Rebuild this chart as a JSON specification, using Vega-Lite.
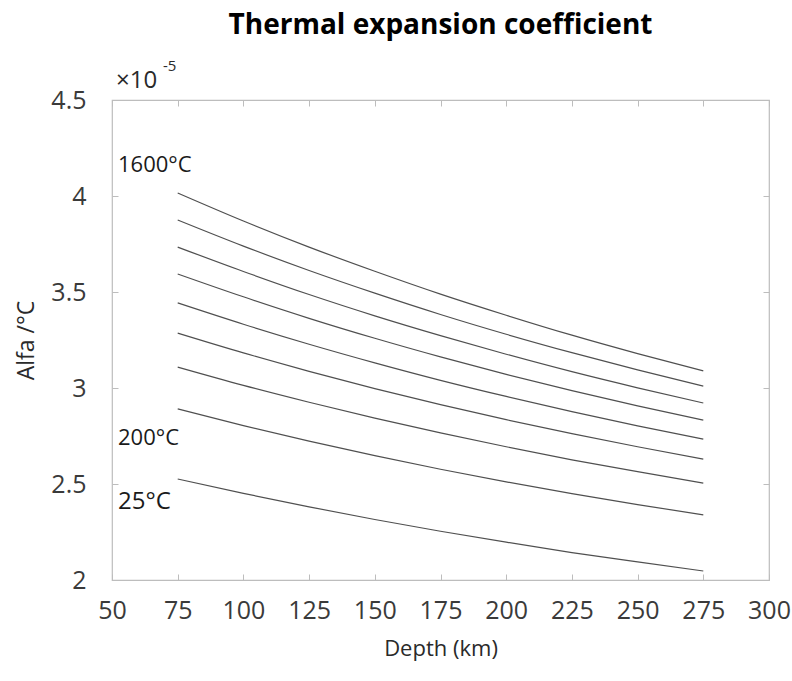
{
  "$schema": "https://vega.github.io/schema/vega-lite/v6.json",
  "width": 657,
  "height": 480,
  "autosize": "none",
  "padding": {"left": 112, "top": 100, "right": 23, "bottom": 101},
  "background": "white",
  "config": {"view": {"stroke": "#bdbdbd", "strokeWidth": 1.2}},
  "title": {
    "text": "Thermal expansion coefficient",
    "font": "Open Sans",
    "fontSize": 28,
    "fontWeight": "bold",
    "color": "#000000",
    "anchor": "middle",
    "offset": 19
  },
  "datasets": {
    "curves": [
      {"depth": 75, "alpha": 4.016, "T": 1600}, {"depth": 100, "alpha": 3.870, "T": 1600}, {"depth": 125, "alpha": 3.734, "T": 1600}, {"depth": 150, "alpha": 3.608, "T": 1600}, {"depth": 175, "alpha": 3.489, "T": 1600}, {"depth": 200, "alpha": 3.379, "T": 1600}, {"depth": 225, "alpha": 3.275, "T": 1600}, {"depth": 250, "alpha": 3.179, "T": 1600}, {"depth": 275, "alpha": 3.089, "T": 1600},
      {"depth": 75, "alpha": 3.875, "T": 1400}, {"depth": 100, "alpha": 3.739, "T": 1400}, {"depth": 125, "alpha": 3.612, "T": 1400}, {"depth": 150, "alpha": 3.494, "T": 1400}, {"depth": 175, "alpha": 3.383, "T": 1400}, {"depth": 200, "alpha": 3.280, "T": 1400}, {"depth": 225, "alpha": 3.184, "T": 1400}, {"depth": 250, "alpha": 3.094, "T": 1400}, {"depth": 275, "alpha": 3.010, "T": 1400},
      {"depth": 75, "alpha": 3.734, "T": 1200}, {"depth": 100, "alpha": 3.607, "T": 1200}, {"depth": 125, "alpha": 3.487, "T": 1200}, {"depth": 150, "alpha": 3.376, "T": 1200}, {"depth": 175, "alpha": 3.273, "T": 1200}, {"depth": 200, "alpha": 3.176, "T": 1200}, {"depth": 225, "alpha": 3.085, "T": 1200}, {"depth": 250, "alpha": 3.001, "T": 1200}, {"depth": 275, "alpha": 2.922, "T": 1200},
      {"depth": 75, "alpha": 3.594, "T": 1000}, {"depth": 100, "alpha": 3.475, "T": 1000}, {"depth": 125, "alpha": 3.363, "T": 1000}, {"depth": 150, "alpha": 3.259, "T": 1000}, {"depth": 175, "alpha": 3.162, "T": 1000}, {"depth": 200, "alpha": 3.071, "T": 1000}, {"depth": 225, "alpha": 2.986, "T": 1000}, {"depth": 250, "alpha": 2.907, "T": 1000}, {"depth": 275, "alpha": 2.833, "T": 1000},
      {"depth": 75, "alpha": 3.443, "T": 800}, {"depth": 100, "alpha": 3.332, "T": 800}, {"depth": 125, "alpha": 3.228, "T": 800}, {"depth": 150, "alpha": 3.131, "T": 800}, {"depth": 175, "alpha": 3.040, "T": 800}, {"depth": 200, "alpha": 2.956, "T": 800}, {"depth": 225, "alpha": 2.877, "T": 800}, {"depth": 250, "alpha": 2.803, "T": 800}, {"depth": 275, "alpha": 2.734, "T": 800},
      {"depth": 75, "alpha": 3.286, "T": 600}, {"depth": 100, "alpha": 3.183, "T": 600}, {"depth": 125, "alpha": 3.087, "T": 600}, {"depth": 150, "alpha": 2.997, "T": 600}, {"depth": 175, "alpha": 2.913, "T": 600}, {"depth": 200, "alpha": 2.835, "T": 600}, {"depth": 225, "alpha": 2.762, "T": 600}, {"depth": 250, "alpha": 2.694, "T": 600}, {"depth": 275, "alpha": 2.630, "T": 600},
      {"depth": 75, "alpha": 3.109, "T": 400}, {"depth": 100, "alpha": 3.014, "T": 400}, {"depth": 125, "alpha": 2.926, "T": 400}, {"depth": 150, "alpha": 2.843, "T": 400}, {"depth": 175, "alpha": 2.766, "T": 400}, {"depth": 200, "alpha": 2.694, "T": 400}, {"depth": 225, "alpha": 2.626, "T": 400}, {"depth": 250, "alpha": 2.564, "T": 400}, {"depth": 275, "alpha": 2.505, "T": 400},
      {"depth": 75, "alpha": 2.891, "T": 200}, {"depth": 100, "alpha": 2.804, "T": 200}, {"depth": 125, "alpha": 2.723, "T": 200}, {"depth": 150, "alpha": 2.648, "T": 200}, {"depth": 175, "alpha": 2.577, "T": 200}, {"depth": 200, "alpha": 2.511, "T": 200}, {"depth": 225, "alpha": 2.450, "T": 200}, {"depth": 250, "alpha": 2.393, "T": 200}, {"depth": 275, "alpha": 2.339, "T": 200},
      {"depth": 75, "alpha": 2.526, "T": 25}, {"depth": 100, "alpha": 2.451, "T": 25}, {"depth": 125, "alpha": 2.381, "T": 25}, {"depth": 150, "alpha": 2.315, "T": 25}, {"depth": 175, "alpha": 2.254, "T": 25}, {"depth": 200, "alpha": 2.197, "T": 25}, {"depth": 225, "alpha": 2.143, "T": 25}, {"depth": 250, "alpha": 2.094, "T": 25}, {"depth": 275, "alpha": 2.047, "T": 25}
    ],
    "labels": [
      {"depth": 52.3, "alpha": 4.164, "label": "1600°C", "size": 22},
      {"depth": 52.3, "alpha": 2.737, "label": "200°C", "size": 22},
      {"depth": 52.3, "alpha": 2.406, "label": "25°C", "size": 24}
    ],
    "exponent": [
      {"depth": 51.5, "alpha": 4.60, "label": "×10", "size": 24},
      {"depth": 69.4, "alpha": 4.677, "label": "-5", "size": 15}
    ]
  },
  "layer": [
    {
      "data": {"name": "curves"},
      "mark": {"type": "line", "color": "#505050", "strokeWidth": 1.2, "interpolate": "monotone"},
      "encoding": {
        "x": {
          "field": "depth", "type": "quantitative",
          "scale": {"domain": [50, 300], "nice": false, "zero": false},
          "axis": {
            "orient": "bottom", "title": "Depth (km)", "values": [50, 75, 100, 125, 150, 175, 200, 225, 250, 275, 300],
            "grid": false, "domain": false, "tickColor": "#bdbdbd", "tickSize": -6, "labelPadding": 24, "labelFlush": false, "labelOverlap": false,
            "labelFont": "Open Sans", "labelFontSize": 25, "labelColor": "#3a3a3a",
            "titleFont": "Open Sans", "titleFontSize": 22, "titleFontWeight": "normal", "titleColor": "#2a2a2a", "titlePadding": 15
          }
        },
        "y": {
          "field": "alpha", "type": "quantitative",
          "scale": {"domain": [2, 4.5], "nice": false, "zero": false},
          "axis": {
            "orient": "left", "title": "Alfa /°C", "values": [2, 2.5, 3, 3.5, 4, 4.5], "format": "~g",
            "grid": false, "domain": false, "tickColor": "#bdbdbd", "tickSize": -6, "labelPadding": 32, "labelFlush": false, "labelOverlap": false,
            "labelFont": "Open Sans", "labelFontSize": 25, "labelColor": "#3a3a3a",
            "titleFont": "Open Sans", "titleFontSize": 23, "titleFontWeight": "normal", "titleColor": "#2a2a2a", "titlePadding": 12
          }
        },
        "detail": {"field": "T", "type": "nominal"}
      }
    },
    {
      "data": {"name": "curves"},
      "mark": {"type": "line", "opacity": 0},
      "encoding": {
        "x": {
          "field": "depth", "type": "quantitative",
          "axis": {"orient": "top", "title": null, "labels": false, "grid": false, "domain": false, "tickColor": "#bdbdbd", "tickSize": -6, "values": [50, 75, 100, 125, 150, 175, 200, 225, 250, 275, 300]}
        },
        "y": {
          "field": "alpha", "type": "quantitative",
          "axis": {"orient": "right", "title": null, "labels": false, "grid": false, "domain": false, "tickColor": "#bdbdbd", "tickSize": -6, "values": [2, 2.5, 3, 3.5, 4, 4.5]}
        },
        "detail": {"field": "T", "type": "nominal"}
      }
    },
    {
      "data": {"name": "labels"},
      "mark": {"type": "text", "align": "left", "baseline": "middle", "font": "Open Sans", "color": "#1a1a1a"},
      "encoding": {
        "x": {"field": "depth", "type": "quantitative", "axis": null},
        "y": {"field": "alpha", "type": "quantitative", "axis": null},
        "text": {"field": "label"},
        "size": {"field": "size", "type": "quantitative", "scale": null}
      }
    },
    {
      "data": {"name": "exponent"},
      "mark": {"type": "text", "align": "left", "baseline": "middle", "font": "Open Sans", "color": "#2a2a2a", "clip": false},
      "encoding": {
        "x": {"field": "depth", "type": "quantitative", "axis": null},
        "y": {"field": "alpha", "type": "quantitative", "axis": null},
        "text": {"field": "label"},
        "size": {"field": "size", "type": "quantitative", "scale": null}
      }
    }
  ],
  "resolve": {"axis": {"x": "independent", "y": "independent"}}
}
